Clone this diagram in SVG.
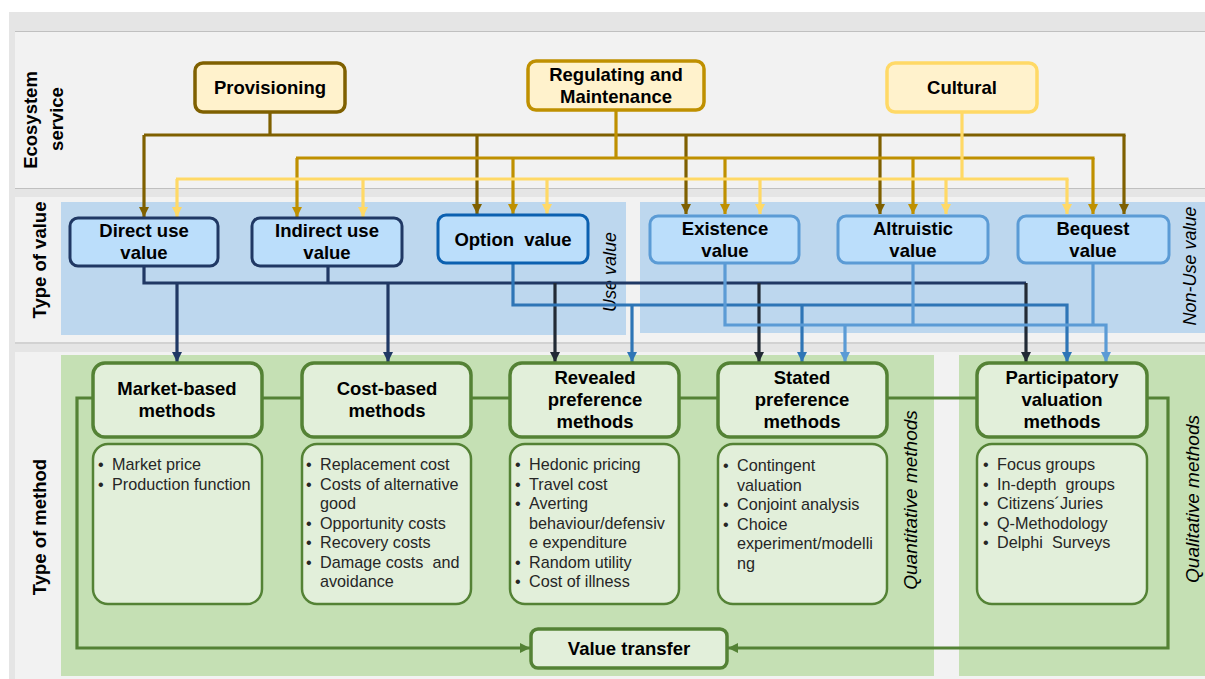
<svg xmlns="http://www.w3.org/2000/svg" width="1205" height="679" viewBox="0 0 1205 679">
<style>
.lbl{font-family:"Liberation Sans",Arial,sans-serif;font-weight:bold;font-size:18.5px;fill:#000;text-anchor:middle}
.row{font-family:"Liberation Sans",Arial,sans-serif;font-weight:bold;font-size:18.5px;fill:#000;text-anchor:middle}
.ital{font-family:"Liberation Sans",Arial,sans-serif;font-style:italic;font-size:18px;fill:#000;text-anchor:middle}
.ital2{font-family:"Liberation Sans",Arial,sans-serif;font-style:italic;font-size:19px;fill:#000;text-anchor:middle}
.bul{font-family:"Liberation Sans",Arial,sans-serif;font-size:16.2px;fill:#262626}
.es{fill:#fff2cc;stroke-width:3.5}
.val{fill:#bbdefb;stroke-width:3}
.mh{fill:#e2efda;stroke:#548235;stroke-width:3.5}
.md{fill:#e2efda;stroke:#548235;stroke-width:2.5}
.c{fill:none;stroke-width:3.2}
</style>
<defs>
<marker id="aBr" markerUnits="userSpaceOnUse" markerWidth="12" markerHeight="12" refX="10" refY="5" orient="auto"><path d="M0,0 L10,5 L0,10 z" fill="#7f6000"/></marker>
<marker id="aGo" markerUnits="userSpaceOnUse" markerWidth="12" markerHeight="12" refX="10" refY="5" orient="auto"><path d="M0,0 L10,5 L0,10 z" fill="#bf9000"/></marker>
<marker id="aYe" markerUnits="userSpaceOnUse" markerWidth="12" markerHeight="12" refX="10" refY="5" orient="auto"><path d="M0,0 L10,5 L0,10 z" fill="#ffd966"/></marker>
<marker id="aNv" markerUnits="userSpaceOnUse" markerWidth="12" markerHeight="12" refX="10" refY="5" orient="auto"><path d="M0,0 L10,5 L0,10 z" fill="#203864"/></marker>
<marker id="aDk" markerUnits="userSpaceOnUse" markerWidth="12" markerHeight="12" refX="10" refY="5" orient="auto"><path d="M0,0 L10,5 L0,10 z" fill="#222a35"/></marker>
<marker id="aMb" markerUnits="userSpaceOnUse" markerWidth="12" markerHeight="12" refX="10" refY="5" orient="auto"><path d="M0,0 L10,5 L0,10 z" fill="#2e75b6"/></marker>
<marker id="aLb" markerUnits="userSpaceOnUse" markerWidth="12" markerHeight="12" refX="10" refY="5" orient="auto"><path d="M0,0 L10,5 L0,10 z" fill="#5b9bd5"/></marker>
<marker id="aGr" markerUnits="userSpaceOnUse" markerWidth="12" markerHeight="12" refX="10" refY="5" orient="auto"><path d="M0,0 L10,5 L0,10 z" fill="#548235"/></marker>
</defs>

<g id="background">
<rect x="0" y="0" width="1205" height="679" fill="#ffffff"/>
<rect x="9" y="12" width="1196" height="667" fill="#e5e5e5"/>
<rect x="15" y="32" width="1190" height="156" fill="#f2f2f2"/>
<rect x="15" y="197" width="1190" height="145" fill="#f2f2f2"/>
<rect x="15" y="352" width="1190" height="327" fill="#f2f2f2"/>
<path d="M15,31.5 H1205 M15,188.5 H1205 M15,343 H1205" stroke="#c0c0c0" stroke-width="1.2" fill="none"/>
<rect x="61" y="202" width="565" height="133" fill="#bdd7ee"/>
<rect x="640" y="202" width="565" height="131" fill="#bdd7ee"/>
<rect x="61" y="355" width="873" height="321" fill="#c5e0b4"/>
<rect x="959" y="355" width="246" height="321" fill="#c5e0b4"/>
</g>

<g id="row-labels">
<text class="row" transform="translate(36.5,120) rotate(-90)">Ecosystem</text>
<text class="row" transform="translate(63,119) rotate(-90)">service</text>
<text class="row" transform="translate(46,260) rotate(-90)">Type of value</text>
<text class="row" transform="translate(46,527) rotate(-90)">Type of method</text>
<text class="ital" transform="translate(616,272) rotate(-90)">Use value</text>
<text class="ital" transform="translate(1196,266) rotate(-90)">Non-Use value</text>
<text class="ital2" transform="translate(917,500) rotate(-90)">Quantitative methods</text>
<text class="ital2" transform="translate(1199,499) rotate(-90)">Qualitative methods</text>
</g>

<g id="connectors">
<path class="c" stroke="#7f6000" d="M270,112 V135 M144,135 H1125.5"/>
<path class="c" stroke="#7f6000" marker-end="url(#aBr)" d="M144,135 V217"/>
<path class="c" stroke="#7f6000" marker-end="url(#aBr)" d="M477,135 V214"/>
<path class="c" stroke="#7f6000" marker-end="url(#aBr)" d="M686,135 V214"/>
<path class="c" stroke="#7f6000" marker-end="url(#aBr)" d="M880,135 V214"/>
<path class="c" stroke="#7f6000" marker-end="url(#aBr)" d="M1124,135 V214"/>
<path class="c" stroke="#bf9000" d="M616,110 V158 M296,158 H1094.5"/>
<path class="c" stroke="#bf9000" marker-end="url(#aGo)" d="M297,158 V217"/>
<path class="c" stroke="#bf9000" marker-end="url(#aGo)" d="M513,158 V214"/>
<path class="c" stroke="#bf9000" marker-end="url(#aGo)" d="M725,158 V214"/>
<path class="c" stroke="#bf9000" marker-end="url(#aGo)" d="M913,158 V214"/>
<path class="c" stroke="#bf9000" marker-end="url(#aGo)" d="M1093,158 V214"/>
<path class="c" stroke="#ffd966" d="M962,112 V179 M176,179 H1068.5"/>
<path class="c" stroke="#ffd966" marker-end="url(#aYe)" d="M177,179 V217"/>
<path class="c" stroke="#ffd966" marker-end="url(#aYe)" d="M363,179 V217"/>
<path class="c" stroke="#ffd966" marker-end="url(#aYe)" d="M547,179 V214"/>
<path class="c" stroke="#ffd966" marker-end="url(#aYe)" d="M760,179 V214"/>
<path class="c" stroke="#ffd966" marker-end="url(#aYe)" d="M946,179 V214"/>
<path class="c" stroke="#ffd966" marker-end="url(#aYe)" d="M1067,179 V214"/>
<path class="c" stroke="#203864" d="M144,266 V283 H1026 M328,266 V283"/>
<path class="c" stroke="#203864" marker-end="url(#aNv)" d="M177,283 V362"/>
<path class="c" stroke="#203864" marker-end="url(#aNv)" d="M388,283 V362"/>
<path class="c" stroke="#222a35" marker-end="url(#aDk)" d="M555,283 V362"/>
<path class="c" stroke="#222a35" marker-end="url(#aDk)" d="M759,283 V362"/>
<path class="c" stroke="#222a35" marker-end="url(#aDk)" d="M1026,283 V362"/>
<path class="c" stroke="#2e75b6" marker-end="url(#aMb)" d="M513,263 V305 H1067 V362"/>
<path class="c" stroke="#2e75b6" marker-end="url(#aMb)" d="M632,305 V362"/>
<path class="c" stroke="#2e75b6" marker-end="url(#aMb)" d="M802,305 V362"/>
<path class="c" stroke="#5b9bd5" marker-end="url(#aLb)" d="M725,263 V325 H1106 V362"/>
<path class="c" stroke="#5b9bd5" d="M913,263 V325 M1093,263 V325"/>
<path class="c" stroke="#5b9bd5" marker-end="url(#aLb)" d="M845,325 V362"/>
<path class="c" stroke="#548235" d="M262,398 H302 M471,398 H510 M679,398 H718 M887,398 H977"/>
<path class="c" stroke="#548235" marker-end="url(#aGr)" d="M93,398 H77 V648 H530"/>
<path class="c" stroke="#548235" marker-end="url(#aGr)" d="M1147,398 H1168 V648 H728"/>
</g>

<g id="provisioning">
<rect class="es" stroke="#7f6000" x="195" y="63" width="150" height="49" rx="8"/>
<text class="lbl" x="270" y="94">Provisioning</text>
</g>
<g id="regulating">
<rect class="es" stroke="#bf9000" x="528" y="61" width="176" height="49" rx="8"/>
<text class="lbl" x="616" y="81">Regulating and</text>
<text class="lbl" x="616" y="103">Maintenance</text>
</g>
<g id="cultural">
<rect class="es" stroke="#ffd966" x="887" y="63" width="150" height="49" rx="8"/>
<text class="lbl" x="962" y="94">Cultural</text>
</g>

<g id="direct-use">
<rect class="val" stroke="#203864" x="70" y="218" width="148" height="48" rx="8"/>
<text class="lbl" x="144" y="237">Direct use</text>
<text class="lbl" x="144" y="259">value</text>
</g>
<g id="indirect-use">
<rect class="val" stroke="#203864" x="252" y="218" width="150" height="48" rx="8"/>
<text class="lbl" x="327" y="237">Indirect use</text>
<text class="lbl" x="327" y="259">value</text>
</g>
<g id="option">
<rect class="val" stroke="#0b60b0" stroke-width="3.5" x="438" y="215" width="150" height="48" rx="8"/>
<text class="lbl" x="513" y="246" xml:space="preserve">Option  value</text>
</g>
<g id="existence">
<rect class="val" stroke="#5b9bd5" x="650" y="216" width="149" height="47" rx="8"/>
<text class="lbl" x="725" y="235">Existence</text>
<text class="lbl" x="725" y="257">value</text>
</g>
<g id="altruistic">
<rect class="val" stroke="#5b9bd5" x="838" y="216" width="150" height="47" rx="8"/>
<text class="lbl" x="913" y="235">Altruistic</text>
<text class="lbl" x="913" y="257">value</text>
</g>
<g id="bequest">
<rect class="val" stroke="#5b9bd5" x="1018" y="216" width="151" height="47" rx="8"/>
<text class="lbl" x="1093" y="235">Bequest</text>
<text class="lbl" x="1093" y="257">value</text>
</g>

<g id="market-based">
<rect class="mh" x="93" y="363" width="169" height="74" rx="12"/>
<text class="lbl" x="177" y="395">Market-based</text>
<text class="lbl" x="177" y="417">methods</text>
<rect class="md" x="93" y="444" width="169" height="160" rx="15"/>
<text class="bul" x="98" y="470">•</text><text class="bul" x="112" y="470">Market price</text>
<text class="bul" x="98" y="489.5">•</text><text class="bul" x="112" y="489.5">Production function</text>
</g>
<g id="cost-based">
<rect class="mh" x="302" y="363" width="169" height="74" rx="12"/>
<text class="lbl" x="387" y="395">Cost-based</text>
<text class="lbl" x="387" y="417">methods</text>
<rect class="md" x="302" y="444" width="169" height="160" rx="15"/>
<text class="bul" x="306" y="470">•</text><text class="bul" x="320" y="470">Replacement cost</text>
<text class="bul" x="306" y="489.5">•</text><text class="bul" x="320" y="489.5">Costs of alternative</text>
<text class="bul" x="320" y="509">good</text>
<text class="bul" x="306" y="528.5">•</text><text class="bul" x="320" y="528.5">Opportunity costs</text>
<text class="bul" x="306" y="548">•</text><text class="bul" x="320" y="548">Recovery costs</text>
<text class="bul" x="306" y="567.5">•</text><text class="bul" x="320" y="567.5" xml:space="preserve">Damage costs  and</text>
<text class="bul" x="320" y="587">avoidance</text>
</g>
<g id="revealed-preference">
<rect class="mh" x="510" y="363" width="169" height="74" rx="12"/>
<text class="lbl" x="595" y="384">Revealed</text>
<text class="lbl" x="595" y="406">preference</text>
<text class="lbl" x="595" y="428">methods</text>
<rect class="md" x="510" y="444" width="169" height="160" rx="15"/>
<text class="bul" x="515" y="470">•</text><text class="bul" x="529" y="470">Hedonic pricing</text>
<text class="bul" x="515" y="489.5">•</text><text class="bul" x="529" y="489.5">Travel cost</text>
<text class="bul" x="515" y="509">•</text><text class="bul" x="529" y="509">Averting</text>
<text class="bul" x="529" y="528.5">behaviour/defensiv</text>
<text class="bul" x="529" y="548">e expenditure</text>
<text class="bul" x="515" y="567.5">•</text><text class="bul" x="529" y="567.5">Random utility</text>
<text class="bul" x="515" y="587">•</text><text class="bul" x="529" y="587">Cost of illness</text>
</g>
<g id="stated-preference">
<rect class="mh" x="718" y="363" width="169" height="74" rx="12"/>
<text class="lbl" x="802" y="384">Stated</text>
<text class="lbl" x="802" y="406">preference</text>
<text class="lbl" x="802" y="428">methods</text>
<rect class="md" x="718" y="444" width="169" height="160" rx="15"/>
<text class="bul" x="723" y="471">•</text><text class="bul" x="737" y="471">Contingent</text>
<text class="bul" x="737" y="490.5">valuation</text>
<text class="bul" x="723" y="510">•</text><text class="bul" x="737" y="510">Conjoint analysis</text>
<text class="bul" x="723" y="529.5">•</text><text class="bul" x="737" y="529.5">Choice</text>
<text class="bul" x="737" y="549">experiment/modelli</text>
<text class="bul" x="737" y="568.5">ng</text>
</g>
<g id="participatory">
<rect class="mh" x="977" y="363" width="170" height="74" rx="12"/>
<text class="lbl" x="1062" y="384">Participatory</text>
<text class="lbl" x="1062" y="406">valuation</text>
<text class="lbl" x="1062" y="428">methods</text>
<rect class="md" x="977" y="444" width="170" height="160" rx="15"/>
<text class="bul" x="983" y="470">•</text><text class="bul" x="997" y="470">Focus groups</text>
<text class="bul" x="983" y="489.5">•</text><text class="bul" x="997" y="489.5" xml:space="preserve">In-depth  groups</text>
<text class="bul" x="983" y="509">•</text><text class="bul" x="997" y="509">Citizens´Juries</text>
<text class="bul" x="983" y="528.5">•</text><text class="bul" x="997" y="528.5">Q-Methodology</text>
<text class="bul" x="983" y="548">•</text><text class="bul" x="997" y="548" xml:space="preserve">Delphi  Surveys</text>
</g>
<g id="value-transfer">
<rect class="mh" x="531" y="629" width="196" height="39" rx="7"/>
<text class="lbl" x="629" y="655">Value transfer</text>
</g>
</svg>
